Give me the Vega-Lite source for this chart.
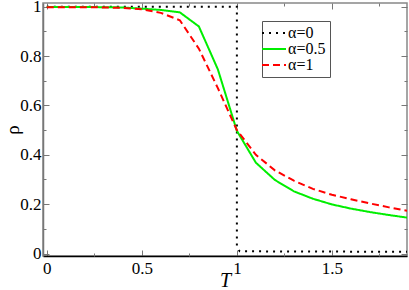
{
  "$schema": "https://vega.github.io/schema/vega-lite/v6.json",
  "width": 364,
  "height": 253,
  "autosize": {"type": "none"},
  "padding": {"left": 43, "top": 3, "right": 2, "bottom": 34},
  "config": {
    "font": "Liberation Serif, Times New Roman, DejaVu Serif, serif",
    "view": {"stroke": "#888888", "strokeWidth": 1.5},
    "axis": {"grid": false, "labelFont": "Liberation Serif, Times New Roman, DejaVu Serif, serif", "titleFont": "Liberation Serif, Times New Roman, DejaVu Serif, serif", "labelColor": "black", "titleColor": "black", "tickColor": "#777777", "domainColor": "#777777", "titleFontWeight": "normal"},
    "legend": {"labelFont": "Liberation Serif, Times New Roman, DejaVu Serif, serif"}
  },
  "datasets": {
    "curves": [
      {"s": "α=0", "i": 0, "T": 0, "rho": 1},
      {"s": "α=0", "i": 1, "T": 1.0, "rho": 1},
      {"s": "α=0", "i": 2, "T": 1.0, "rho": 0.024},
      {"s": "α=0", "i": 3, "T": 1.015, "rho": 0.009},
      {"s": "α=0", "i": 4, "T": 1.9, "rho": 0.007},
      {"s": "α=0.5", "i": 0, "T": 0, "rho": 0.999},
      {"s": "α=0.5", "i": 1, "T": 0.1, "rho": 0.999},
      {"s": "α=0.5", "i": 2, "T": 0.2, "rho": 0.999},
      {"s": "α=0.5", "i": 3, "T": 0.3, "rho": 0.998},
      {"s": "α=0.5", "i": 4, "T": 0.4, "rho": 0.997},
      {"s": "α=0.5", "i": 5, "T": 0.5, "rho": 0.992},
      {"s": "α=0.5", "i": 6, "T": 0.6, "rho": 0.987},
      {"s": "α=0.5", "i": 7, "T": 0.7, "rho": 0.977},
      {"s": "α=0.5", "i": 8, "T": 0.8, "rho": 0.92},
      {"s": "α=0.5", "i": 9, "T": 0.9, "rho": 0.746},
      {"s": "α=0.5", "i": 10, "T": 1.0, "rho": 0.497},
      {"s": "α=0.5", "i": 11, "T": 1.1, "rho": 0.368},
      {"s": "α=0.5", "i": 12, "T": 1.2, "rho": 0.298},
      {"s": "α=0.5", "i": 13, "T": 1.3, "rho": 0.252},
      {"s": "α=0.5", "i": 14, "T": 1.4, "rho": 0.222},
      {"s": "α=0.5", "i": 15, "T": 1.5, "rho": 0.199},
      {"s": "α=0.5", "i": 16, "T": 1.6, "rho": 0.182},
      {"s": "α=0.5", "i": 17, "T": 1.7, "rho": 0.168},
      {"s": "α=0.5", "i": 18, "T": 1.8, "rho": 0.156},
      {"s": "α=0.5", "i": 19, "T": 1.9, "rho": 0.145},
      {"s": "α=1", "i": 0, "T": 0, "rho": 0.998},
      {"s": "α=1", "i": 1, "T": 0.1, "rho": 0.998},
      {"s": "α=1", "i": 2, "T": 0.2, "rho": 0.998},
      {"s": "α=1", "i": 3, "T": 0.3, "rho": 0.997},
      {"s": "α=1", "i": 4, "T": 0.4, "rho": 0.995},
      {"s": "α=1", "i": 5, "T": 0.5, "rho": 0.99},
      {"s": "α=1", "i": 6, "T": 0.6, "rho": 0.975},
      {"s": "α=1", "i": 7, "T": 0.7, "rho": 0.945},
      {"s": "α=1", "i": 8, "T": 0.8, "rho": 0.83},
      {"s": "α=1", "i": 9, "T": 0.9, "rho": 0.67},
      {"s": "α=1", "i": 10, "T": 1.0, "rho": 0.5},
      {"s": "α=1", "i": 11, "T": 1.1, "rho": 0.4},
      {"s": "α=1", "i": 12, "T": 1.2, "rho": 0.337},
      {"s": "α=1", "i": 13, "T": 1.3, "rho": 0.295},
      {"s": "α=1", "i": 14, "T": 1.4, "rho": 0.262},
      {"s": "α=1", "i": 15, "T": 1.5, "rho": 0.238},
      {"s": "α=1", "i": 16, "T": 1.6, "rho": 0.22},
      {"s": "α=1", "i": 17, "T": 1.7, "rho": 0.203},
      {"s": "α=1", "i": 18, "T": 1.8, "rho": 0.187},
      {"s": "α=1", "i": 19, "T": 1.9, "rho": 0.173}
    ]
  },
  "data": {"name": "curves"},
  "layer": [
    {
      "mark": {"type": "line", "clip": true, "strokeWidth": 2},
      "encoding": {
        "x": {"field": "T", "type": "quantitative", "scale": {"domain": [-0.02, 1.895], "nice": false, "zero": false},
          "axis": {"orient": "bottom", "values": [0, 0.5, 1, 1.5], "format": "~g", "tickSize": -6, "labelPadding": 10, "labelFontSize": 17, "domainColor": "black", "domainWidth": 1.5, "title": "T", "titleFontSize": 20, "titleFontStyle": "italic", "titleBaseline": "alphabetic", "titleY": 30, "labelFlush": false}},
        "y": {"field": "rho", "type": "quantitative", "scale": {"domain": [-0.01, 1.015], "nice": false, "zero": false},
          "axis": {"orient": "left", "values": [0, 0.2, 0.4, 0.6, 0.8, 1], "format": "~g", "tickSize": -6, "labelPadding": 8, "labelFontSize": 17, "domainWidth": 1.5, "title": "ρ", "titleFontSize": 19, "titleBaseline": "middle", "titleX": -31, "labelFlush": false}},
        "color": {"field": "s", "type": "nominal", "scale": {"domain": ["α=0", "α=0.5", "α=1"], "range": ["black", "#00ee00", "#ff0000"]},
          "legend": {"title": null, "orient": "none", "legendX": 219, "legendY": 18, "symbolType": "M-3,0H3", "symbolSize": 64, "symbolStrokeWidth": 2, "labelFontSize": 16, "rowPadding": -3, "padding": 4, "strokeColor": "#555555", "fillColor": "white", "labelOffset": 6}},
        "strokeDash": {"field": "s", "type": "nominal", "scale": {"domain": ["α=0", "α=0.5", "α=1"], "range": [[2, 5], [1, 0], [7, 4]]}},
        "order": {"field": "i", "type": "quantitative"}
      }
    },
    {
      "mark": {"type": "line", "opacity": 0},
      "encoding": {
        "x": {"field": "T", "type": "quantitative", "scale": {"domain": [-0.02, 1.895], "nice": false, "zero": false},
          "axis": {"orient": "bottom", "values": [0.25, 0.75, 1.25, 1.75], "tickSize": -3, "labels": false, "domain": false, "title": null}},
        "y": {"field": "rho", "type": "quantitative", "scale": {"domain": [-0.01, 1.015], "nice": false, "zero": false},
          "axis": {"orient": "left", "values": [0.1, 0.3, 0.5, 0.7, 0.9], "tickSize": -3, "labels": false, "domain": false, "title": null}},
        "detail": {"field": "s"},
        "order": {"field": "i", "type": "quantitative"}
      }
    },
    {
      "mark": {"type": "line", "opacity": 0},
      "encoding": {
        "x": {"field": "T", "type": "quantitative", "scale": {"domain": [-0.02, 1.895], "nice": false, "zero": false},
          "axis": {"orient": "top", "values": [0, 0.5, 1, 1.5], "tickSize": -6, "labels": false, "domain": false, "title": null}},
        "y": {"field": "rho", "type": "quantitative", "scale": {"domain": [-0.01, 1.015], "nice": false, "zero": false},
          "axis": {"orient": "right", "values": [0, 0.2, 0.4, 0.6, 0.8, 1], "tickSize": -6, "labels": false, "domain": false, "title": null}},
        "detail": {"field": "s"},
        "order": {"field": "i", "type": "quantitative"}
      }
    },
    {
      "mark": {"type": "line", "opacity": 0},
      "encoding": {
        "x": {"field": "T", "type": "quantitative", "scale": {"domain": [-0.02, 1.895], "nice": false, "zero": false},
          "axis": {"orient": "top", "values": [0.25, 0.75, 1.25, 1.75], "tickSize": -3, "labels": false, "domain": false, "title": null}},
        "y": {"field": "rho", "type": "quantitative", "scale": {"domain": [-0.01, 1.015], "nice": false, "zero": false},
          "axis": {"orient": "right", "values": [0.1, 0.3, 0.5, 0.7, 0.9], "tickSize": -3, "labels": false, "domain": false, "title": null}},
        "detail": {"field": "s"},
        "order": {"field": "i", "type": "quantitative"}
      }
    }
  ],
  "resolve": {"axis": {"x": "independent", "y": "independent"}}
}
